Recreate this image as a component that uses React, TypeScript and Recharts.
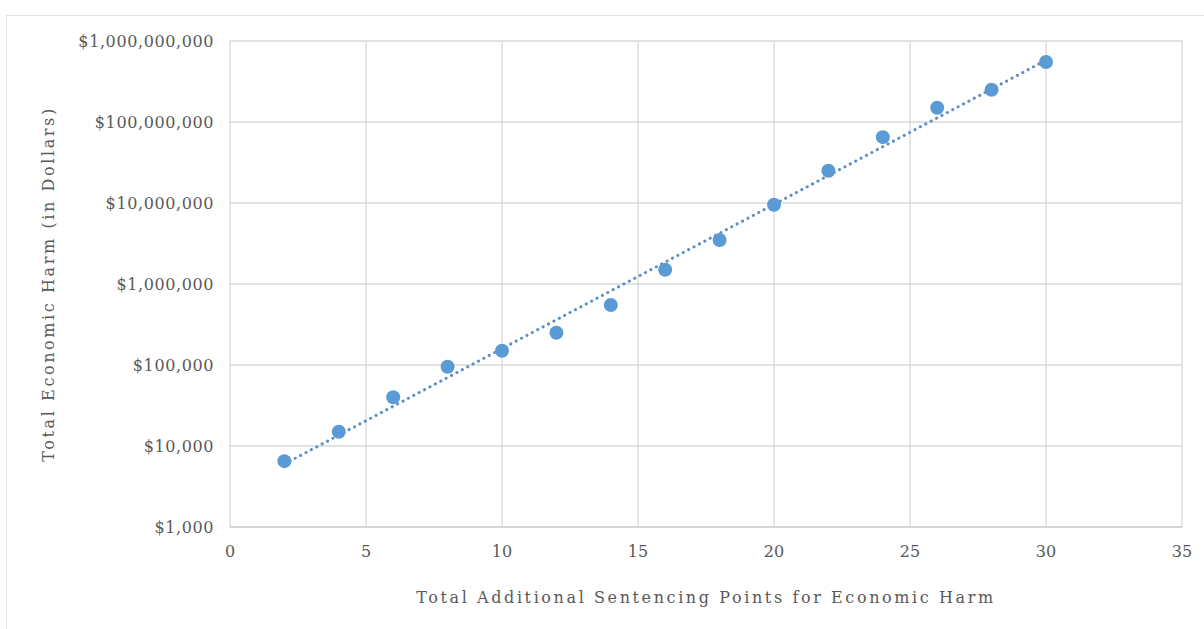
import {
  CartesianGrid,
  Label,
  Scatter,
  ScatterChart,
  XAxis,
  YAxis
} from "recharts";

// sentencing points added and the loss threshold (dollars) that triggers them
const points = [2, 4, 6, 8, 10, 12, 14, 16, 18, 20, 22, 24, 26, 28, 30];
const harm = [
  6500, 15000, 40000, 95000, 150000, 250000, 550000, 1500000, 3500000,
  9500000, 25000000, 65000000, 150000000, 250000000, 550000000
];

// exponential trend line, read at its two ends
const trendX = [2, 30];
const trendY = [6000, 580000000];

const xTicks = [0, 5, 10, 15, 20, 25, 30, 35];
const yTicks = [1e3, 1e4, 1e5, 1e6, 1e7, 1e8, 1e9];

const data = points.map((x, i) => ({ x, y: harm[i] }));
const trend = trendX.map((x, i) => ({ x, y: trendY[i] }));

const blue = "#5b9bd5";
const textColor = "#595959";
const font = "DejaVu Serif";

const fmtDollars = (v: number) => "$" + v.toLocaleString("en-US");

export default function App() {
  return (
    <div style={{ position: "absolute", left: 0, top: 0, width: 1204, height: 629, background: "#fff" }}>
      <div
        style={{
          position: "absolute",
          left: 6,
          top: 15,
          width: 1210,
          height: 620,
          border: "1px solid #e3e3e3"
        }}
      />
      <ScatterChart
        width={1204}
        height={629}
        margin={{ top: 41, right: 22, bottom: 32, left: 8 }}
        style={{ position: "absolute", left: 0, top: 0, fontFamily: font }}
      >
        <CartesianGrid stroke="#d9d9d9" strokeWidth={1.3} />
        <XAxis
          type="number"
          dataKey="x"
          domain={[0, 35]}
          ticks={xTicks}
          height={70}
          axisLine={{ stroke: "#d0d0d0", strokeWidth: 1.5 }}
          tickLine={false}
          tickMargin={13}
          tick={{ fill: textColor, fontSize: 16, fontFamily: font }}
        >
          <Label
            value="Total Additional Sentencing Points for Economic Harm"
            position="insideBottom"
            offset={-6}
            style={{ fill: textColor, fontSize: 16, fontFamily: font, letterSpacing: 2.6 }}
          />
        </XAxis>
        <YAxis
          type="number"
          dataKey="y"
          scale="log"
          domain={[1e3, 1e9]}
          ticks={yTicks}
          allowDataOverflow
          width={222}
          axisLine={false}
          tickLine={false}
          tickMargin={10}
          tickFormatter={fmtDollars}
          tick={{ fill: textColor, fontSize: 16, fontFamily: font, letterSpacing: 0.6 }}
        >
          <Label
            value="Total Economic Harm (in Dollars)"
            angle={-90}
            position="insideLeft"
            offset={40}
            style={{ textAnchor: "middle", fill: textColor, fontSize: 16, fontFamily: font, letterSpacing: 2.6 }}
          />
        </YAxis>
        <Scatter
          data={trend}
          line={{ stroke: "#5a8ec4", strokeWidth: 3, strokeDasharray: "0.1 6", strokeLinecap: "round" }}
          shape={() => <g />}
          isAnimationActive={false}
        />
        <Scatter
          data={data}
          fill={blue}
          shape={(p: any) => <circle cx={p.cx} cy={p.cy} r={7} fill={blue} />}
          isAnimationActive={false}
        />
      </ScatterChart>
    </div>
  );
}
